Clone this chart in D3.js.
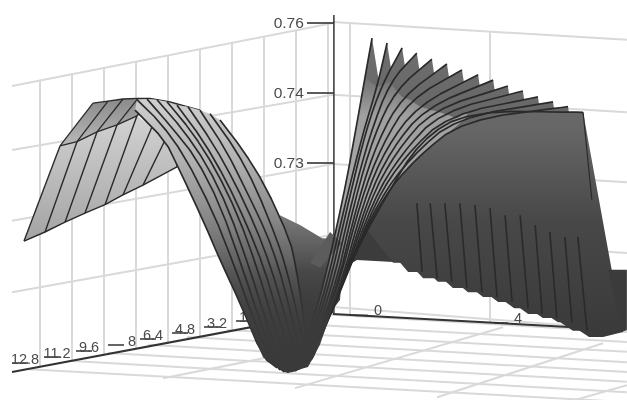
<!DOCTYPE html>
<html>
<head>
<meta charset="utf-8">
<script src="https://cdn.jsdelivr.net/npm/d3@7"></script>
<style>
  html, body { margin: 0; padding: 0; background: #fff; }
  svg { display: block; filter: blur(0.45px); }
  text { font-family: "Liberation Sans", sans-serif; fill: #4a4a4a; }
</style>
</head>
<body>
<div id="chart"></div>
<script>
// Axis labels
const xTicks = [12.8, 11.2, 9.6, 8, 6.4, 4.8, 3.2, 1.6];
const depthTicks = [0, 4];
const zTicks = [0.76, 0.74, 0.73];

// Grid positions
const gridX = [12.2, 10.6, 9, 7.4, 5.8, 4.2, 2.6, 1, -0.6, -2.2];
const gridDepth = [-0.8, 3.2];
const leftWallZ0 = [0.7417, 0.7317, 0.7216, 0.7114];
const leftWallZ1 = [0.7597, 0.7396, 0.7297, 0.7196];
const rightWallZ0 = [0.76, 0.7396, 0.7297, 0.7196, 0.7093];
const rightWallZ1 = [0.7549, 0.7371, 0.7271, 0.717, 0.706];
const floorD0 = [-2.03, -3.17, -4.31, -5.46, -6.57, -7.71, -8.86, -9.97];
const floorZ0 = [0.7084, 0.7071, 0.706, 0.705, 0.7039, 0.7027, 0.7016, 0.7004];
const floorZ1 = [0.7057, 0.7043, 0.7029, 0.7014, 0.7, 0.6986, 0.6971, 0.6957];
const crossD0 = [-6.14, -2.37, 1.69, 5.63];
const crossZ0 = [0.6991, 0.6977, 0.6964, 0.696];
const crossD1 = [-2.23, 3.57, 6.43, 7.11];
const crossZ1 = [0.703, 0.7064, 0.7041, 0.6981];

// Left hump: front edge, shoulder and crest
const baseX = [13, 11.95, 10.95, 9.95, 8.95, 8.05, 7.05, 5.35];
const baseZ = [0.7187, 0.72, 0.7214, 0.7227, 0.7239, 0.7253, 0.7267, 0.7293];
const shoulderX = [11.2, 10.35, 9.35, 8.35, 7.35, 6.6, 5.95, 5.35];
const shoulderZ = [0.7323, 0.7329, 0.7343, 0.7353, 0.7366, 0.735, 0.7331, 0.7317];
const crestX = [9.55, 8.8, 8.05, 7.3, 6.7, 5.7, 4.2];
const crestZ = [0.7384, 0.7387, 0.739, 0.7391, 0.7391, 0.7386, 0.7374];

// Left hump: lines running down into the valley
const descentX = [
  [7.45, 5.95, 5.3, 4.05, 3.2, 2.2, 1.05, 0.35],
  [7.35, 6.2, 5, 3.55, 2.45, 1.6, 0.85, 0.2],
  [6.85, 5.6, 4.4, 3.2, 2.05, 1.25, 0.6, 0],
  [6.35, 5.05, 3.85, 2.75, 1.7, 0.95, 0.3, -0.2],
  [5.85, 4.6, 3.4, 2.3, 1.35, 0.6, 0, -0.4],
  [5.35, 4.05, 2.9, 1.85, 1, 0.3, -0.25, -0.6],
  [4.8, 3.5, 2.45, 1.4, 0.65, 0, -0.5, -0.8],
  [4.2, 2.9, 1.9, 0.9, 0.3, -0.3, -0.75, -1],
  [3.7, 2.4, 1.4, 0.35, -0.1, -0.6, -1, -1.05],
  [3.2, 2.05, 0.95, -0.3, -0.6, -0.9, -1.1, -1.05]
];
const descentZ = [
  [0.7374, 0.7331, 0.7293, 0.7217, 0.716, 0.7099, 0.7021, 0.7006],
  [0.7389, 0.7357, 0.731, 0.7229, 0.7149, 0.7081, 0.7029, 0.7003],
  [0.739, 0.7349, 0.7306, 0.7239, 0.7146, 0.7077, 0.7026, 0.7],
  [0.7389, 0.7346, 0.7296, 0.7231, 0.7146, 0.7077, 0.7026, 0.6999],
  [0.7386, 0.7343, 0.7289, 0.7224, 0.7149, 0.7077, 0.7026, 0.7],
  [0.7381, 0.7331, 0.7274, 0.721, 0.7149, 0.7081, 0.7029, 0.7001],
  [0.7379, 0.7324, 0.727, 0.7206, 0.7149, 0.7086, 0.7031, 0.7004],
  [0.7374, 0.7317, 0.726, 0.72, 0.7153, 0.7089, 0.7034, 0.7007],
  [0.7369, 0.7317, 0.7263, 0.7189, 0.7149, 0.7091, 0.7039, 0.701],
  [0.736, 0.7317, 0.7267, 0.7189, 0.7149, 0.7096, 0.7046, 0.701]
];

// Right side: lines rising out of the valley to the peaks
const riseD = [
  [-2.23, -1.66, -1, -0.57, -0.37, -0.17],
  [-2.2, -1.57, -0.91, -0.43, -0.03, 0.26],
  [-2.17, -1.49, -0.83, -0.34, 0.11, 0.69],
  [-2.14, -1.4, -0.74, -0.23, 0.34, 1.11],
  [-2.11, -1.31, -0.66, -0.11, 0.51, 1.54],
  [-2.09, -1.26, -0.57, 0, 0.69, 1.97],
  [-2.06, -1.2, -0.49, 0.11, 0.91, 2.4],
  [-2.03, -1.14, -0.4, 0.23, 1.14, 2.86],
  [-2, -1.09, -0.31, 0.37, 1.34, 3.29],
  [-1.97, -1.06, -0.23, 0.51, 1.54, 3.71],
  [-1.94, -1, -0.14, 0.66, 1.77, 4.14],
  [-1.91, -0.94, -0.06, 0.8, 2, 4.57],
  [-1.89, -0.89, 0.03, 0.94, 2.23, 5],
  [-1.89, -0.8, 0.09, 1.09, 2.46, 5.43],
  [-1.86, -0.8, 0.17, 1.2, 2.6, 5.86]
];
const riseZ = [
  [0.7017, 0.7103, 0.7246, 0.7364, 0.7443, 0.7554],
  [0.7017, 0.7103, 0.7246, 0.7341, 0.7414, 0.754],
  [0.7017, 0.7103, 0.7246, 0.7346, 0.742, 0.7526],
  [0.7017, 0.7103, 0.7246, 0.7339, 0.7429, 0.7511],
  [0.7017, 0.7103, 0.7246, 0.7339, 0.7406, 0.7494],
  [0.7014, 0.7103, 0.7246, 0.7331, 0.7393, 0.748],
  [0.7014, 0.711, 0.7246, 0.7324, 0.7389, 0.7463],
  [0.7014, 0.711, 0.7246, 0.732, 0.7381, 0.7449],
  [0.7014, 0.7114, 0.7246, 0.7317, 0.7377, 0.7434],
  [0.7014, 0.7117, 0.7246, 0.7314, 0.7374, 0.7417],
  [0.7016, 0.7124, 0.7246, 0.7311, 0.7371, 0.7403],
  [0.7017, 0.7131, 0.7246, 0.731, 0.7367, 0.7393],
  [0.7019, 0.7143, 0.7246, 0.7307, 0.7363, 0.7386],
  [0.702, 0.7153, 0.7246, 0.7306, 0.736, 0.7379],
  [0.7021, 0.7156, 0.7246, 0.7331, 0.7373, 0.7371]
];

// Stepped lower edge of the right face
const stepD = [0.83, 1.26, 1.69, 2.11, 2.54, 2.97, 3.4, 3.83, 4.29, 4.69, 5.11, 5.54, 5.97, 6.43, 7];
const stepZ = [0.7156, 0.7143, 0.7134, 0.7129, 0.712, 0.7114, 0.7107, 0.71, 0.7091, 0.7083, 0.7077, 0.7071, 0.7059, 0.705, 0.7057];
const streakD = [1.11, 1.49, 1.91, 2.34, 2.77, 3.2, 3.63, 4.06, 4.49, 4.91, 5.34, 5.71];
const streakZ = [0.7241, 0.7241, 0.7241, 0.7241, 0.7239, 0.7234, 0.7224, 0.7224, 0.721, 0.72, 0.7193, 0.7193];

// Floor of the valley and the far edge
const backX = [0.2, -0.8, -1.9, -3.05, -2.8, -1.3, -0.3];
const backZ = [0.7224, 0.721, 0.7191, 0.7189, 0.7103, 0.7046, 0.706];
const underD = [-1, 1.2, 0.83, -0.6, -0.94];
const underZ = [0.7246, 0.7246, 0.7156, 0.716, 0.715];
const wedgeD = [-1.94, -1.66, -1.03, -1.37];
const wedgeZ = [0.7156, 0.7149, 0.7184, 0.72];
const edgeD = [5.86, 6.11, 6.54, 7, 6.43, 5.97];
const edgeZ = [0.7371, 0.7246, 0.715, 0.7057, 0.705, 0.7059];
const blockD = [6.57, 7.11, 7.11, 6.97];
const blockZ = [0.7146, 0.7146, 0.706, 0.7057];
const valleyX = [3.2, 2.2, 1.05, 0.35, -0.2, -1.2, -1.8, -2.45, -3.3];
const valleyZ = [0.716, 0.7099, 0.7021, 0.7006, 0.6999, 0.7007, 0.7039, 0.7093, 0.7156];

const width = 627, height = 400;

const svg = d3.select("#chart").append("svg")
    .attr("width", width)
    .attr("height", height);

// Scales: x along the left axis, depth along the right axis, z up
const xScale = d3.scaleLinear().domain([12.8, 0]).range([28, 284]);
const dScale = d3.scaleLinear().domain([0, 4]).range([378, 518]);
const zScale = d3.scaleLinear().domain([0.69, 0.73, 0.74, 0.76]).range([442, 162, 92, 22]);

const xPt = (x, z) => [xScale(x), zScale(z)];
const dPt = (d, z) => [dScale(d), zScale(z)];
const xPath = (xs, zs) => d3.zip(xs, zs).map(p => xPt(p[0], p[1]));
const dPath = (ds, zs) => d3.zip(ds, zs).map(p => dPt(p[0], p[1]));
const line = d3.line();
const shape = pts => line(pts) + "Z";

// Round the drawn lines by cutting corners, the ends stay where they are
function smooth(pts, n = 2) {
    let out = pts;
    for (let k = 0; k < n; k++) {
        const next = [out[0]];
        d3.pairs(out).forEach(([a, b]) => {
            next.push([a[0] * 0.75 + b[0] * 0.25, a[1] * 0.75 + b[1] * 0.25]);
            next.push([a[0] * 0.25 + b[0] * 0.75, a[1] * 0.25 + b[1] * 0.75]);
        });
        next.push(out[out.length - 1]);
        out = next;
    }
    return out;
}

// Gradients
const defs = svg.append("defs");
function gradient(id, stops) {
    const g = defs.append("linearGradient")
        .attr("id", id)
        .attr("gradientUnits", "userSpaceOnUse")
        .attr("x1", 0).attr("x2", 0)
        .attr("y1", 0).attr("y2", 400);
    stops.forEach(s => g.append("stop")
        .attr("offset", s[0] / 400)
        .attr("stop-color", s[1])
        .attr("stop-opacity", s[2] === undefined ? 1 : s[2]));
}
gradient("slope", [[100, "#cfcfcf"], [160, "#b2b2b2"], [220, "#868686"], [270, "#5a5a5a"], [320, "#454545"], [370, "#363636"]]);
gradient("upper", [[100, "#8c8c8c"], [145, "#b8b8b8"]]);
gradient("lower", [[115, "#d2d2d2"], [240, "#a4a4a4"]]);
gradient("back", [[215, "#7a7a7a"], [270, "#4a4a4a"], [340, "#333333"]]);
gradient("face", [[40, "#6e6e6e"], [130, "#666666"], [220, "#484848"], [335, "#3a3a3a"]]);
gradient("rise", [[60, "#5a5a5a"], [115, "#a0a0a0"], [200, "#a8a8a8"], [260, "#7c7c7c"], [330, "#4a4a4a"], [365, "#383838"]]);
gradient("valley", [[265, "#3c3c3c", 0], [325, "#3c3c3c", 0.85], [360, "#3a3a3a", 1]]);

// Grid
const grid = svg.append("g")
    .attr("fill", "none")
    .attr("stroke", "#d9d9d9")
    .attr("stroke-width", 2);
const leftTop = d3.scaleLinear().domain([13.6, -2.45]).range([leftWallZ0[0], leftWallZ1[0]]);
const leftBase = d3.scaleLinear().domain([13.6, -2.45]).range([0.7, 0.7086]);
const rightTop = d3.scaleLinear().domain([-1.29, 7.11]).range([rightWallZ0[0], rightWallZ1[0]]);
const rightBase = d3.scaleLinear().domain([-1.29, 5.57]).range([0.7083, 0.7064]);

leftWallZ0.forEach((z, i) => {
    grid.append("path").attr("d", line([xPt(13.6, z), xPt(-2.45, leftWallZ1[i])]));
});
rightWallZ0.forEach((z, i) => {
    grid.append("path").attr("d", line([dPt(-1.29, z), dPt(7.11, rightWallZ1[i])]));
});
gridX.forEach(x => {
    grid.append("path").attr("d", line([xPt(x, leftTop(x)), xPt(x, leftBase(x))]));
});
gridDepth.forEach(d => {
    grid.append("path").attr("d", line([dPt(d, rightTop(d)), dPt(d, rightBase(d))]));
});
floorD0.forEach((d, i) => {
    grid.append("path").attr("d", line([dPt(d, floorZ0[i]), dPt(7.11, floorZ1[i])]));
});
crossD0.forEach((d, i) => {
    grid.append("path").attr("d", line([dPt(d, crossZ0[i]), dPt(crossD1[i], crossZ1[i])]));
});

// Axes
const axes = svg.append("g");
const axisLine = (pts, w) => axes.append("path")
    .attr("d", line(pts))
    .attr("fill", "none")
    .attr("stroke", "#333")
    .attr("stroke-width", w);

axisLine([xPt(13.6, 0.7), xPt(-2.45, 0.7086)], 2.2);
axisLine([dPt(-1.29, 0.7083), dPt(5.57, 0.7064)], 2);
axisLine([dPt(-1.26, 0.762), dPt(-1.26, 0.7084)], 1.5);

zTicks.forEach(z => {
    const y = zScale(z);
    axes.append("line")
        .attr("x1", dScale(-2.03)).attr("x2", dScale(-1.26))
        .attr("y1", y + 1).attr("y2", y + 1)
        .attr("stroke", "#333").attr("stroke-width", 1.6);
    axes.append("text")
        .attr("x", dScale(-2.12))
        .attr("y", y + 6)
        .attr("text-anchor", "end")
        .attr("font-size", 15.5)
        .text(d3.format(".2f")(z));
});

xTicks.forEach(x => {
    const px = xScale(x);
    const y = zScale(leftBase(x));
    axes.append("line")
        .attr("x1", px - 16).attr("x2", px)
        .attr("y1", y - 6).attr("y2", y - 6)
        .attr("stroke", "#333").attr("stroke-width", 1.5);
    axes.append("text")
        .attr("x", px - (x === 8 ? -8 : 3))
        .attr("y", y - 5)
        .attr("text-anchor", "middle")
        .attr("font-size", 14.5)
        .text(x);
});

depthTicks.forEach(d => {
    const px = dScale(d);
    const y = zScale(rightBase(d));
    axes.append("line")
        .attr("x1", px - 23).attr("x2", px - 10)
        .attr("y1", y - 1).attr("y2", y - 1)
        .attr("stroke", "#333").attr("stroke-width", 1.5);
    axes.append("text")
        .attr("x", px)
        .attr("y", y - 1)
        .attr("text-anchor", "middle")
        .attr("font-size", 14.5)
        .text(d);
});

// Surface
const surface = svg.append("g")
    .attr("stroke-linejoin", "round");
const ink = "#2a2a2a";
const stroke = (pts, w) => surface.append("path")
    .attr("d", line(pts))
    .attr("fill", "none")
    .attr("stroke", ink)
    .attr("stroke-width", w);
const fill = (pts, color) => surface.append("path")
    .attr("d", shape(pts))
    .attr("fill", color);

// valley floor behind the lines
fill(xPath(backX, backZ), "url(#back)");

// upper sheet of the hump
const shoulder = xPath(shoulderX, shoulderZ);
const crest = xPath(crestX, crestZ);
fill(shoulder.slice(0, 5).concat(crest.slice().reverse()), "url(#upper)");
shoulder.slice(0, 5).forEach((p, i) => stroke([p, crest[i]], 1.3));
stroke(crest, 1.3);

// lower sheet of the hump
const base = xPath(baseX, baseZ);
fill(base.concat(shoulder.slice().reverse()), "url(#lower)");
base.forEach((p, i) => stroke([p, shoulder[i]], 1.4));
stroke(base, 1.4);
stroke(shoulder.slice(0, 5), 1.3);

// bands running down into the valley, back ones first
const descents = descentX.map((xs, i) => smooth(xPath(xs, descentZ[i]), 1));
for (let i = descents.length - 2; i >= 0; i--) {
    fill(descents[i].concat(descents[i + 1].slice().reverse()), "url(#slope)");
    stroke(descents[i + 1], 1.7);
}
stroke(descents[0], 1.7);

// dark sheets of the right face, back ones first
const rises = riseD.map((ds, i) => dPath(ds, riseZ[i]));
const steps = dPath(stepD, stepZ);
fill(dPath(underD, underZ), "#3c3c3c");
rises.forEach((r, i) => {
    const step = steps[i];
    const foot = [step[0] - 14, step[1]];
    fill(smooth(r.slice(2)).concat([step, foot]), "url(#face)");
});
fill(smooth(rises[14].slice(2)).concat(dPath(edgeD, edgeZ).slice(1)), "url(#face)");
fill(dPath(blockD, blockZ), "#3b3b3b");

// streaks on the face
streakD.forEach((d, i) => {
    stroke([dPt(d, streakZ[i]), steps[i + 1]], 1.6);
});

// light bands rising out of the valley
const riseCurves = rises.map(r => smooth(r));
for (let i = rises.length - 2; i >= 0; i--) {
    const a = smooth(rises[i].slice(0, 5));
    const b = smooth(rises[i + 1].slice(0, 5));
    fill(a.concat(b.slice().reverse()), "url(#rise)");
}
fill(dPath(wedgeD, wedgeZ), "#5c5c5c");
riseCurves.forEach(r => stroke(r, 1.7));
stroke([rises[14][5], dPt(edgeD[1], edgeZ[1])], 1.2);

// the bottom of the valley fades into one dark mass
fill(xPath(valleyX, valleyZ), "url(#valley)");
</script>
</body>
</html>
